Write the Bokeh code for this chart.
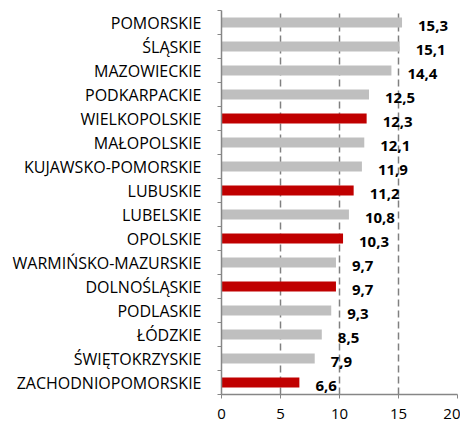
from bokeh.plotting import figure
from bokeh.models import Range1d, FixedTicker
from bokeh.embed import file_html
from bokeh.resources import INLINE
from bokeh.core.properties import value

regions = ["POMORSKIE", "ŚLĄSKIE", "MAZOWIECKIE", "PODKARPACKIE", "WIELKOPOLSKIE",
           "MAŁOPOLSKIE", "KUJAWSKO-POMORSKIE", "LUBUSKIE", "LUBELSKIE", "OPOLSKIE",
           "WARMIŃSKO-MAZURSKIE", "DOLNOŚLĄSKIE", "PODLASKIE", "ŁÓDZKIE",
           "ŚWIĘTOKRZYSKIE", "ZACHODNIOPOMORSKIE"]
values = [15.3, 15.1, 14.4, 12.5, 12.3, 12.1, 11.9, 11.2, 10.8, 10.3, 9.7, 9.7, 9.3, 8.5, 7.9, 6.6]
highlighted = ["WIELKOPOLSKIE", "LUBUSKIE", "OPOLSKIE", "DOLNOŚLĄSKIE", "ZACHODNIOPOMORSKIE"]
x_ticks = [0, 5, 10, 15, 20]

n = len(regions)
ypos = [n - 1 - i for i in range(n)]
colors = ["#C00000" if r in highlighted else "#BFBFBF" for r in regions]
labels = [f"{v:.1f}".replace(".", ",") for v in values]

p = figure(width=460, height=427, output_backend="svg", toolbar_location=None,
           x_range=Range1d(0, 20), y_range=Range1d(-0.5, n - 0.5),
           min_border_left=221, min_border_right=3, min_border_top=10, min_border_bottom=33)
p.outline_line_color = None
p.background_fill_color = "white"

p.hbar(y=ypos, left=0, right=values, height=0.42, color=colors, line_color=None)
p.text(x=values, y=ypos, text=labels, x_offset=16, y_offset=3,
       text_font=value("Open Sans"), text_font_style="bold", text_font_size="15px",
       text_color="black", text_baseline="middle", text_align="left")

# grid
p.ygrid.visible = False
p.xgrid.ticker = FixedTicker(ticks=[5, 10, 15, 20])
p.xgrid.grid_line_color = "#808080"
p.xgrid.grid_line_dash = "7 4"
p.xgrid.grid_line_width = 1.5

# x axis
p.xaxis.ticker = FixedTicker(ticks=x_ticks)
p.xaxis.axis_line_color = "#868686"
p.xaxis.axis_line_width = 1.5
p.xaxis.major_tick_line_color = "#868686"
p.xaxis.major_tick_out = 4
p.xaxis.major_tick_in = 0
p.xaxis.minor_tick_line_color = None
p.xaxis.major_label_text_font = "Open Sans"
p.xaxis.major_label_text_font_size = "15px"
p.xaxis.major_label_text_color = "black"
p.xaxis.major_label_standoff = 10

# y axis
p.yaxis.ticker = FixedTicker(ticks=ypos, minor_ticks=[y + 0.5 for y in range(-1, n)])
p.yaxis.major_label_overrides = {y: r for y, r in zip(ypos, regions)}
p.yaxis.axis_line_color = "#868686"
p.yaxis.axis_line_width = 1.5
p.yaxis.major_tick_line_color = None
p.yaxis.major_tick_out = 0
p.yaxis.major_tick_in = 0
p.yaxis.minor_tick_line_color = "#868686"
p.yaxis.minor_tick_out = 4
p.yaxis.minor_tick_in = 0
p.yaxis.major_label_text_font = "Open Sans"
p.yaxis.major_label_text_font_size = "16px"
p.yaxis.major_label_text_color = "black"
p.yaxis.major_label_standoff = 16

open("out.html", "w").write(file_html(p, INLINE))
